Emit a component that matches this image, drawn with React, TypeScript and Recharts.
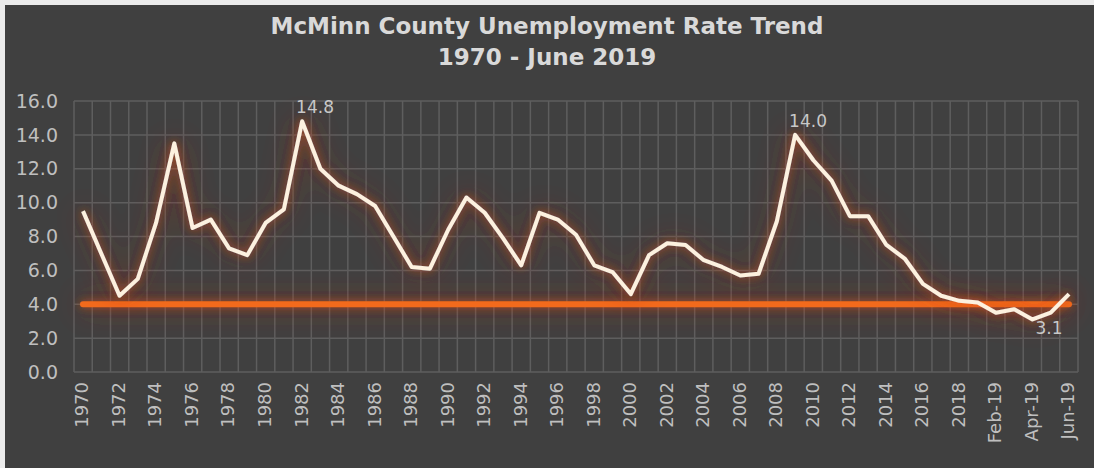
import { CartesianGrid, LabelList, Line, LineChart, XAxis, YAxis } from "recharts";

const periods = [
  "1970", "1971", "1972", "1973", "1974", "1975", "1976", "1977", "1978", "1979",
  "1980", "1981", "1982", "1983", "1984", "1985", "1986", "1987", "1988", "1989",
  "1990", "1991", "1992", "1993", "1994", "1995", "1996", "1997", "1998", "1999",
  "2000", "2001", "2002", "2003", "2004", "2005", "2006", "2007", "2008", "2009",
  "2010", "2011", "2012", "2013", "2014", "2015", "2016", "2017", "2018",
  "Jan-19", "Feb-19", "Mar-19", "Apr-19", "May-19", "Jun-19",
];

const rates = [
  9.5, 7.0, 4.5, 5.5, 8.8, 13.5, 8.5, 9.0, 7.3, 6.9,
  8.8, 9.6, 14.8, 12.0, 11.0, 10.5, 9.8, 8.0, 6.2, 6.1,
  8.4, 10.3, 9.4, 7.9, 6.3, 9.4, 9.0, 8.1, 6.3, 5.9,
  4.6, 6.9, 7.6, 7.5, 6.6, 6.2, 5.7, 5.8, 8.9, 14.0,
  12.5, 11.3, 9.2, 9.2, 7.5, 6.7, 5.2, 4.5, 4.2,
  4.1, 3.5, 3.7, 3.1, 3.5, 4.6,
];

// reference rate drawn as the orange line
const benchmark = 4.0;

const yTicks = [0, 2, 4, 6, 8, 10, 12, 14, 16];

const labeledPeriods = ["1982", "2009", "Apr-19"];

const data = periods.map((period, i) => ({
  period,
  rate: rates[i],
  benchmark,
}));

const font = "DejaVu Sans";
const tickColor = "#bfbfbf";

const XTick = (props: any) => {
  const { x, y, payload } = props;
  return (
    <text
      x={x}
      y={y}
      transform={`rotate(-90 ${x} ${y})`}
      textAnchor="end"
      dy="0.3em"
      fill={tickColor}
      fontSize={18}
      fontFamily={font}
    >
      {payload.value}
    </text>
  );
};

const PeakLabel = (props: any) => {
  const { x, y, value, index } = props;
  if (!labeledPeriods.includes(periods[index])) return null;
  const above = value > 10;
  return (
    <text
      x={above ? x - 6 : x + 3}
      y={above ? y - 8 : y + 15}
      fill="#c8c8c8"
      fontSize={17}
      fontFamily={font}
    >
      {value.toFixed(1)}
    </text>
  );
};

const boundaries = ({ offset }: any) => {
  const out: number[] = [];
  for (let i = 0; i <= periods.length; i++) {
    out.push(offset.left + (i * offset.width) / periods.length);
  }
  return out;
};

export default function App() {
  return (
    <div style={{ position: "absolute", left: 0, top: 0, width: 1094, height: 468, background: "#ececec" }}>
      <div style={{ position: "absolute", left: 5, top: 5, width: 1089, height: 463, background: "#404040" }} />
      <div
        style={{
          position: "absolute",
          left: 0,
          top: 11,
          width: 1094,
          textAlign: "center",
          color: "#d9d9d9",
          fontFamily: font,
          fontWeight: "bold",
          fontSize: 23,
          lineHeight: "31px",
        }}
      >
        <div>McMinn County Unemployment Rate Trend</div>
        <div>1970 - June 2019</div>
      </div>
      <div style={{ position: "absolute", left: 0, top: 0 }}>
        <LineChart width={1094} height={468} data={data} margin={{ top: 101, right: 16, bottom: 16, left: 14 }}>
          <defs>
            <filter id="glow" filterUnits="userSpaceOnUse" x="0" y="0" width="1094" height="468">
              <feGaussianBlur in="SourceAlpha" stdDeviation="14" result="wide" />
              <feFlood floodColor="#b83a18" floodOpacity="0.8" result="c1" />
              <feComposite in="c1" in2="wide" operator="in" result="haze" />
              <feGaussianBlur in="SourceAlpha" stdDeviation="4" result="near" />
              <feFlood floodColor="#d9531e" floodOpacity="0.7" result="c2" />
              <feComposite in="c2" in2="near" operator="in" result="halo" />
              <feMerge>
                <feMergeNode in="haze" />
                <feMergeNode in="halo" />
                <feMergeNode in="SourceGraphic" />
              </feMerge>
            </filter>
          </defs>
          <CartesianGrid
            stroke="#5e5e5e"
            strokeWidth={1.5}
            verticalCoordinatesGenerator={boundaries}
          />
          <XAxis
            dataKey="period"
            interval={1}
            padding={{ left: 9, right: 9 }}
            axisLine={false}
            tickLine={false}
            tickSize={0}
            tickMargin={10}
            height={80}
            tick={<XTick />}
          />
          <YAxis
            domain={[0, 16]}
            ticks={yTicks}
            tickFormatter={(v: number) => v.toFixed(1)}
            axisLine={false}
            tickLine={false}
            tickSize={0}
            tickMargin={16}
            width={60}
            tick={{ fill: tickColor, fontSize: 19, fontFamily: font }}
          />
          <Line
            dataKey="benchmark"
            stroke="#f26a1b"
            strokeWidth={6}
            strokeLinecap="round"
            dot={false}
            filter="url(#glow)"
            isAnimationActive={false}
          />
          <Line
            dataKey="rate"
            stroke="#fdf1df"
            strokeWidth={4}
            strokeLinejoin="round"
            dot={false}
            filter="url(#glow)"
            isAnimationActive={false}
          >
            <LabelList dataKey="rate" content={<PeakLabel />} />
          </Line>
        </LineChart>
      </div>
    </div>
  );
}
